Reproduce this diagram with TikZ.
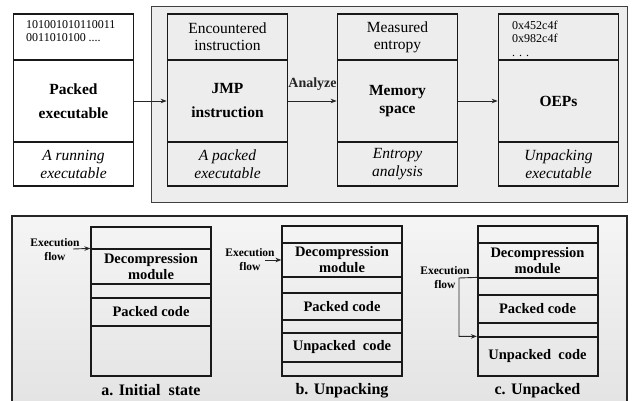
\documentclass[tikz,border=0pt]{standalone}
\usepackage{fontspec}
\setmainfont{Liberation Serif}
\usetikzlibrary{arrows.meta}
\begin{document}
\begin{tikzpicture}[x=1pt,y=-1pt,
  sec/.style={draw=black!90, line width=1.7pt, inner sep=0pt, align=center, minimum width=120pt},
  hd/.style={sec, minimum height=46pt, font=\fontsize{15.5}{17}\selectfont},
  md/.style={sec, minimum height=82pt, font=\fontsize{15.5}{24}\selectfont\bfseries},
  ft/.style={sec, minimum height=44pt, font=\fontsize{15.5}{18}\selectfont\itshape},
  small/.style={inner sep=0pt, align=left, font=\fontsize{12}{13.5}\selectfont},
  bsec/.style={draw=black!90, line width=1.2pt, inner sep=0pt, align=center, minimum width=120pt, font=\fontsize{14.5}{16}\selectfont\bfseries},
  frame/.style={draw=black!90, line width=2pt, minimum width=120pt, inner sep=0pt},
  flowlbl/.style={inner sep=0pt, align=center, font=\fontsize{11.5}{14}\selectfont\bfseries},
  caption/.style={inner sep=0pt, font=\fontsize{16}{18}\selectfont\bfseries},
  conn/.style={-{Stealth[length=6pt,width=4.5pt]}, line width=0.9pt, black!85},
  panel/.style={draw=black!75, line width=1pt}]
\useasboundingbox (0,0) rectangle (633,401);
\clip (0,0) rectangle (633,401);
\fill[white] (0,0) rectangle (633,401);

% background panels
\fill[black!7] (151,7) rectangle (627,203);
\draw[panel] (151,7) rectangle (627,203);
\shade[top color=black!4, bottom color=black!11] (12,216) rectangle (627,410);
\draw[draw=black!85, line width=1.6pt] (12,216) rectangle (627,410);

% ---- top row: four stacked boxes ----
\node[hd] (h1) at (73.5,37) {};
\node[small, anchor=west] (h1t) at (26,31) {101001010110011\\0011010100 ....};
\node[md] (m1) at (73.5,101) {Packed\\executable};
\node[ft] (f1) at (73.5,164) {A running\\executable};

\node[hd] (h2) at (227.5,37) {Encountered\\instruction};
\node[md] (m2) at (227.5,101) {JMP\\instruction};
\node[ft] (f2) at (227.5,164) {A packed\\executable};

\node[hd] (h3) at (397.5,37) {Measured\\entropy};
\node[md, font=\fontsize{15.5}{18}\selectfont\bfseries] (m3) at (397.5,101) {Memory\\space};
\node[ft] (f3) at (397.5,164) {Entropy\\analysis};

\node[hd] (h4) at (558.5,37) {};
\node[small, anchor=west] (h4t) at (512,38.5) {0x452c4f\\0x982c4f\\. . .};
\node[md] (m4) at (558.5,101) {OEPs};
\node[ft] (f4) at (558.5,164) {Unpacking\\executable};

\draw[conn] (m1) -- (m2);
\draw[conn] (m2) -- node[above=10pt, inner sep=0pt, font=\fontsize{14}{16}\selectfont\bfseries] (an) {Analyze} (m3);
\draw[conn] (m3) -- (m4);

% ---- bottom row: a. initial state ----
\node[bsec, minimum height=22pt] (a1) at (151,238) {};
\node[bsec, minimum height=35pt] (a2) at (151,266.5) {Decompression\\module};
\node[bsec, minimum height=14pt] (a3) at (151,291) {};
\node[bsec, minimum height=28pt] (a4) at (151,312) {Packed code};
\node[bsec, minimum height=50pt] (a5) at (151,351) {};
\node[frame, minimum height=149pt] (aF) at (151,301.5) {};
\node[caption] (aC) at (151,390) {a. Initial\ \ state};
\node[flowlbl] (aL) at (55,250) {Execution\\flow};
\coordinate (aS) at (73,249);
\draw[conn] (aS) -- (a2.north west);

% ---- bottom row: b. unpacking ----
\node[bsec, minimum height=17pt] (b1) at (342,234.5) {};
\node[bsec, minimum height=34pt] (b2) at (342,260) {Decompression\\module};
\node[bsec, minimum height=16pt] (b3) at (342,285) {};
\node[bsec, minimum height=27pt] (b4) at (342,306.5) {Packed code};
\node[bsec, minimum height=13pt] (b5) at (342,326.5) {};
\node[bsec, minimum height=29pt] (b6) at (342,347.5) {Unpacked\ \ code};
\node[bsec, minimum height=14pt] (b7) at (342,369) {};
\node[frame, minimum height=150pt] (bF) at (342,301) {};
\node[caption] (bC) at (342,391) {b. Unpacking};
\node[flowlbl] (bL) at (250,260) {Execution\\flow};
\coordinate (bS) at (265,260);
\draw[conn] (bS) -- (b2.west);

% ---- bottom row: c. unpacked ----
\node[bsec, minimum height=17pt] (c1) at (537.5,234.5) {};
\node[bsec, minimum height=35pt] (c2) at (537.5,260.5) {Decompression\\module};
\node[bsec, minimum height=17pt] (c3) at (537.5,286.5) {};
\node[bsec, minimum height=28pt] (c4) at (537.5,309) {Packed code};
\node[bsec, minimum height=14pt] (c5) at (537.5,330) {};
\node[bsec, minimum height=39pt] (c6) at (537.5,356.5) {Unpacked\ \ code};
\node[frame, minimum height=150pt] (cF) at (537.5,301) {};
\node[caption] (cC) at (537.5,391) {c. Unpacked};
\node[flowlbl] (cL) at (445,278) {Execution\\flow};
\coordinate (cK) at (459,278);
\draw[conn] (c3.north west) -- (cK) |- (c6.north west);
\end{tikzpicture}
\end{document}
